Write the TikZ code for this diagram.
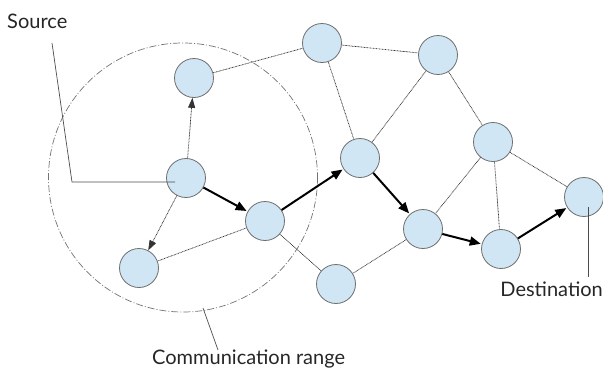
\documentclass[tikz,border=0pt]{standalone}
\usepackage{fontspec}
\setmainfont{Lato}
\usetikzlibrary{arrows.meta}
\definecolor{nodefill}{HTML}{D0E6F4}
\definecolor{nodeline}{HTML}{6E6E6E}
\begin{document}
\begin{tikzpicture}[x=1pt,y=-1pt,
  nd/.style={circle,draw=nodeline,fill=nodefill,line width=0.8pt,minimum size=39pt,inner sep=0pt},
  link/.style={draw=black!80,line width=0.75pt,dash pattern=on 0.8pt off 0.7pt},
  weakarrow/.style={link,-{Triangle[length=10pt,width=7pt]}},
  hop/.style={draw=black,line width=2pt,-{Triangle[length=11pt,width=9pt]},shorten >=1pt},
  lead/.style={draw=black!70,line width=0.7pt},
  lbl/.style={font=\fontsize{20}{24}\selectfont,text=black!85,inner sep=0pt}]
\useasboundingbox (0,0) rectangle (603,370);
% communication range
\draw[draw=black!55,line width=0.7pt,dash pattern=on 7pt off 2pt on 1pt off 2pt] (183,177.5) circle (134.5);
% nodes
\node[nd] (A) at (194,78) {};
\node[nd] (S) at (186,178) {};
\node[nd] (B) at (139,268) {};
\node[nd] (C) at (265,221) {};
\node[nd] (D) at (322,43) {};
\node[nd] (E) at (438,55) {};
\node[nd] (F) at (360,158) {};
\node[nd] (G) at (493,142) {};
\node[nd] (H) at (584,197) {};
\node[nd] (I) at (423,229) {};
\node[nd] (J) at (501,249) {};
\node[nd] (K) at (336,284) {};
% dotted links
\draw[link] (A) -- (D);
\draw[link] (D) -- (E);
\draw[link] (D) -- (F);
\draw[link] (E) -- (F);
\draw[link] (E) -- (G);
\draw[link] (G) -- (I);
\draw[link] (G) -- (J);
\draw[link] (G) -- (H);
\draw[link] (I) -- (K);
\draw[link] (C) -- (K);
\draw[link] (C) -- (B);
\draw[weakarrow] (S) -- (A);
\draw[weakarrow] (S) -- (B);
% route
\draw[hop] (S) -- (C);
\draw[hop] (C) -- (F);
\draw[hop] (F) -- (I);
\draw[hop] (I) -- (J);
\draw[hop] (J) -- (H);
% labels
\node[lbl,anchor=west] (srcl) at (7,21) {Source};
\coordinate (s1) at (52,43);
\coordinate (s2) at (72,182);
\coordinate (s3) at (175,182);
\draw[lead] (s1) -- (s2) -- (s3);
\node[lbl,anchor=west] (coml) at (152,359) {Communication range};
\coordinate (c1) at (203,308);
\coordinate (c2) at (218,350);
\draw[lead] (c1) -- (c2);
\node[lbl,anchor=east] (dstl) at (603,289) {Destination};
\coordinate (d1) at (588,207);
\coordinate (d2) at (588,277);
\draw[lead] (d1) -- (d2);
\end{tikzpicture}
\end{document}
